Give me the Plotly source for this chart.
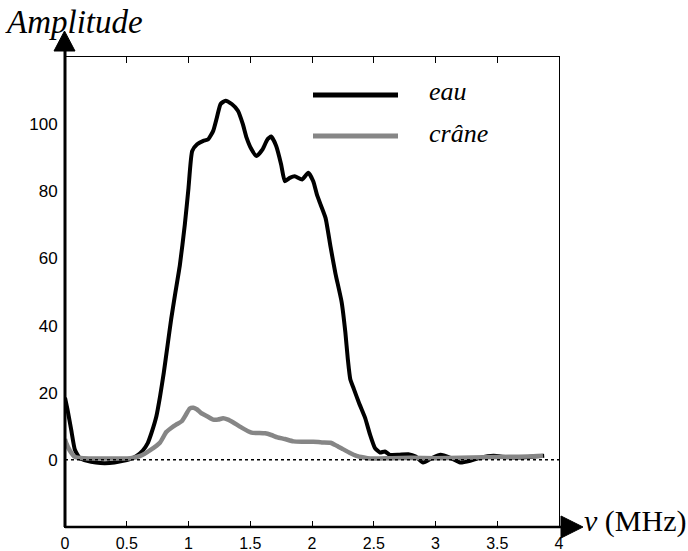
import plotly.graph_objects as go

# ---- data ----
eau_v = [0, 0.02, 0.05, 0.08, 0.12, 0.18, 0.25, 0.32, 0.4, 0.47,
         0.53, 0.58, 0.63, 0.67, 0.7, 0.74, 0.77, 0.8, 0.83, 0.86,
         0.89, 0.93, 0.97, 1.0, 1.03, 1.07, 1.12, 1.16, 1.2, 1.23,
         1.26, 1.3, 1.35, 1.4, 1.44, 1.47, 1.51, 1.55, 1.6, 1.64,
         1.67, 1.71, 1.75, 1.78, 1.82, 1.86, 1.92, 1.97, 2.01, 2.04,
         2.07, 2.11, 2.15, 2.19, 2.24, 2.27, 2.29, 2.31, 2.34, 2.38,
         2.43, 2.47, 2.51, 2.55, 2.59, 2.63, 2.7, 2.78, 2.84, 2.9,
         2.97, 3.04, 3.12, 3.2, 3.28, 3.36, 3.47, 3.58, 3.7, 3.8, 3.88]
eau_a = [18.5, 15, 9, 3, 0.5, -0.3, -0.8, -1, -0.8, -0.3,
         0.3, 1.2, 2.8, 5, 8, 13, 19, 26, 34, 42,
         49, 58, 70, 81, 92, 94, 95, 95.5, 98, 102,
         106, 107, 106, 104, 100, 96, 92.5, 90.5, 92.5, 95.5,
         96.3, 93.5, 88, 83, 84, 84.5, 83.5, 85.5, 83, 79,
         76, 72, 63.5, 55.5, 47, 38, 30, 24, 21, 17,
         12.5, 7.5, 3.5, 2.2, 2.5, 1.5, 1.5, 1.7, 1, -0.8,
         0.5, 1.5, 0.6, -0.8, -0.3, 0.6, 1.2, 0.8, 0.7, 1, 1.2]

crane_v = [0, 0.01, 0.04, 0.08, 0.15, 0.3, 0.45, 0.53, 0.61, 0.69,
           0.77, 0.82, 0.86, 0.9, 0.945, 0.98, 1.01, 1.04, 1.07, 1.1,
           1.15, 1.2, 1.24, 1.28, 1.32, 1.36, 1.43, 1.51, 1.56, 1.62,
           1.67, 1.72, 1.78, 1.85, 1.92, 2.01, 2.08, 2.15, 2.2, 2.25,
           2.3, 2.36, 2.42, 2.47, 2.55, 2.65, 2.8, 3.0, 3.2, 3.4,
           3.6, 3.75, 3.87]
crane_a = [6.2, 5, 2.7, 0.9, 0.5, 0.4, 0.4, 0.5, 1.2, 2.9,
           5.2, 8.3, 9.5, 10.5, 11.5, 13.5, 15.3, 15.5, 15, 14,
           13, 12, 12, 12.4, 12, 11.2, 9.6, 8.1, 8, 7.9,
           7.4, 6.7, 6.2, 5.5, 5.4, 5.4, 5.2, 5.1, 4.2, 3.2,
           2.2, 1.2, 0.7, 0.4, 0.4, 0.5, 0.6, 0.5, 0.6, 0.8,
           0.9, 1.0, 1.2]

x_ticks = [0, 0.5, 1, 1.5, 2, 2.5, 3, 3.5, 4]
x_labels = ["0", "0.5", "1", "1.5", "2", "2.5", "3", "3.5", "4"]
y_ticks = [0, 20, 40, 60, 80, 100]
y_labels = ["0", "20", "40", "60", "80", "100"]

names = ["eau", "crâne"]
colors = ["#000000", "#868686"]

fig = go.Figure()
fig.add_trace(go.Scatter(x=eau_v, y=eau_a, mode="lines", name=names[0],
                         line=dict(color=colors[0], width=4, shape="spline", smoothing=0.5),
                         showlegend=False))
fig.add_trace(go.Scatter(x=crane_v, y=crane_a, mode="lines", name=names[1],
                         line=dict(color=colors[1], width=4.5, shape="spline", smoothing=0.5),
                         showlegend=False))

W, H = 688, 551
L, R, T, B = 65, 559, 57, 527
pw, ph = R - L, B - T

def px(x):
    return (x - L) / pw

def py(y):
    return (B - y) / ph

shapes = []
# dotted zero line
shapes.append(dict(type="line", xref="x", yref="y", x0=0, x1=4, y0=0, y1=0,
                   line=dict(color="black", width=1.5, dash="dot")))
# thick left and bottom axes
shapes.append(dict(type="line", xref="paper", yref="paper", x0=0, x1=0, y0=0, y1=py(51),
                   line=dict(color="black", width=3)))
shapes.append(dict(type="line", xref="paper", yref="paper", x0=0, x1=px(562), y0=0, y1=0,
                   line=dict(color="black", width=2.5)))
# arrow heads
shapes.append(dict(type="path", xref="paper", yref="paper",
                   path=f"M {px(54)},{py(51)} L {px(75)},{py(51)} L {px(64.5)},{py(31)} Z",
                   fillcolor="black", line=dict(color="black", width=1)))
shapes.append(dict(type="path", xref="paper", yref="paper",
                   path=f"M {px(561)},{py(516)} L {px(561)},{py(538)} L {px(583)},{py(527)} Z",
                   fillcolor="black", line=dict(color="black", width=1)))
# legend lines
shapes.append(dict(type="line", xref="paper", yref="paper", x0=px(313), x1=px(398), y0=py(95), y1=py(95),
                   line=dict(color=colors[0], width=5)))
shapes.append(dict(type="line", xref="paper", yref="paper", x0=px(313), x1=px(398), y0=py(136), y1=py(136),
                   line=dict(color=colors[1], width=5)))

serif = "Liberation Serif"
annotations = [
    dict(text="<i>Amplitude</i>", xref="paper", yref="paper", x=px(3), y=py(22),
         xanchor="left", yanchor="middle", showarrow=False,
         font=dict(family=serif, size=33, color="black")),
    dict(text="<i>ν</i> (MHz)", xref="paper", yref="paper", x=px(582), y=py(521),
         xanchor="left", yanchor="middle", showarrow=False,
         font=dict(family=serif, size=30, color="black")),
    dict(text="<i>" + names[0] + "</i>", xref="paper", yref="paper", x=px(427), y=py(91),
         xanchor="left", yanchor="middle", showarrow=False,
         font=dict(family=serif, size=26, color="black")),
    dict(text="<i>" + names[1] + "</i>", xref="paper", yref="paper", x=px(427), y=py(133),
         xanchor="left", yanchor="middle", showarrow=False,
         font=dict(family=serif, size=26, color="black")),
]

fig.update_layout(
    width=W, height=H,
    margin=dict(l=L, r=W - R, t=T, b=H - B, pad=0, autoexpand=False),
    paper_bgcolor="white", plot_bgcolor="white",
    shapes=shapes, annotations=annotations,
    font=dict(family="Liberation Sans", size=16, color="black"),
    xaxis=dict(range=[0, 4], tickvals=x_ticks, ticktext=x_labels,
               showgrid=False, zeroline=False, automargin=False,
               showline=True, linecolor="black", linewidth=1, mirror="ticks",
               ticks="inside", ticklen=6, tickwidth=1, tickcolor="black",
               ticklabelstandoff=2,
               tickfont=dict(family="Liberation Sans", size=16)),
    yaxis=dict(range=[-20, 120], tickvals=y_ticks, ticktext=y_labels,
               showgrid=False, zeroline=False, automargin=False,
               showline=True, linecolor="black", linewidth=1, mirror=True,
               ticks="", ticklabelstandoff=3,
               tickfont=dict(family="Liberation Sans", size=17)),
)

fig.write_html("out.html")
